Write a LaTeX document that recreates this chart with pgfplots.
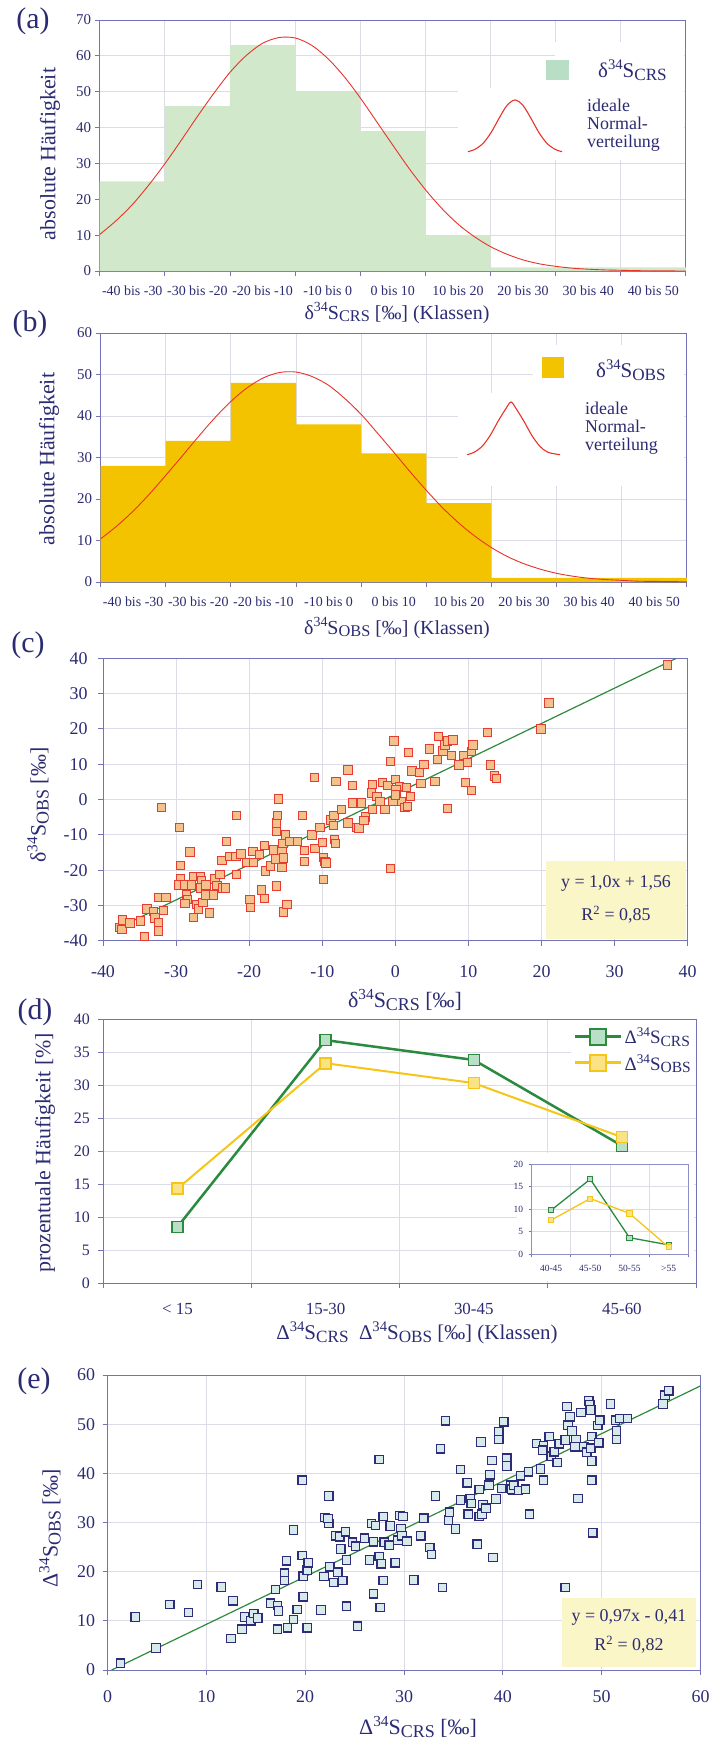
\documentclass[border=0pt]{standalone}
\usepackage{fontspec}
\setmainfont{Liberation Serif}
\usepackage{graphicx}
\usepackage{pgfplots}
\pgfplotsset{compat=1.18}
\definecolor{navy}{HTML}{2B2B73}
\definecolor{axc}{HTML}{7373B8}
\definecolor{gridc}{HTML}{DCDCE6}
\definecolor{barA}{HTML}{D2E8CB}
\definecolor{keyA}{HTML}{B8DEC6}
\definecolor{barB}{HTML}{F4C300}
\definecolor{curve}{HTML}{E8332B}
\definecolor{regl}{HTML}{2E8B3C}
\definecolor{boxc}{HTML}{FBF6C8}
\definecolor{cfill}{HTML}{F6C08C}
\definecolor{cdraw}{HTML}{E53B30}
\definecolor{efill}{HTML}{D6EAEC}
\definecolor{edraw}{HTML}{2E2C78}
\definecolor{dgreen}{HTML}{2A8A3E}
\definecolor{lgreen}{HTML}{B9DFC6}
\definecolor{dyel}{HTML}{F5C518}
\definecolor{lyel}{HTML}{F9E384}

\newcommand{\fs}[1]{\fontsize{#1}{#1}\selectfont}
\newcommand{\lo}[1]{\raisebox{-0.3ex}{\scalebox{0.82}{#1}}}
\newcommand{\hi}[1]{\raisebox{0.8ex}{\scalebox{0.7}{#1}}}
\newcommand{\dS}[1]{δ\hi{34}S\lo{#1}}
\newcommand{\DS}[1]{Δ\hi{34}S\lo{#1}}

\pgfplotsset{
  panel/.style={scale only axis, anchor=south west,
    axis line style={axc,line width=0.9bp},
    every tick/.style={axc,line width=0.9bp},
    major tick length=5bp, tick align=outside, tick pos=left,
    grid=major, grid style={gridc,line width=0.9bp},
    /pgf/number format/assume math mode=true,
    every tick label/.append style={text=navy}},
}

\begin{document}
\begin{tikzpicture}[x=1bp,y=-1bp]
\path[use as bounding box] (0,0) rectangle (711,1742);

% ---------- (a) CRS histogram
\begin{axis}[panel, at={(99.7bp,-271bp)}, width=586.2bp, height=251bp,
  xmin=-40, xmax=50, ymin=0, ymax=70,
  xtick={-40,-30,...,50}, x tick label as interval,
  xticklabels={-40 bis -30,-30 bis -20,-20 bis -10,-10 bis 0,0 bis 10,10 bis 20,20 bis 30,30 bis 40,40 bis 50},
  ytick={0,10,...,70},
  xticklabel style={font=\fs{14}, yshift=-6bp},
  yticklabel style={font=\fs{15}}]
\addplot[ybar interval, fill=barA, draw=none] coordinates
  {(-40,25) (-30,46) (-20,63) (-10,50) (0,39) (10,10) (20,1) (30,1) (40,1) (50,1)};
\addplot[curve, line width=0.9bp, smooth] coordinates {
  (-40,10.2) (-37.5,14.0) (-35,18.5) (-32.5,23.9) (-30,29.9) (-27.5,36.4)
  (-25,43.1) (-22.5,49.5) (-20,55.4) (-17.5,60.1) (-15,63.5) (-12.5,65.1)
  (-10,65.0) (-7.5,63.0) (-5,59.3) (-2.5,54.3) (0,48.3) (2.5,41.7) (5,35.1)
  (7.5,28.6) (10,22.7) (12.5,17.5) (15,13.1) (17.5,9.6) (20,6.8) (22.5,4.7)
  (25,3.1) (27.5,2.0) (30,1.3) (32.5,0.8) (35,0.5) (37.5,0.3) (40,0.2)
  (42.5,0.1) (45,0.05) (50,0)};
\end{axis}
\fill[white] (555,42) rectangle (684,90);
\fill[white] (458,88) rectangle (684,160);
\fill[keyA] (546,60) rectangle (569,80);
\node[anchor=west, font=\fs{21}, text=navy, inner sep=0] at (598,70) {\dS{CRS}};
\draw[curve, line width=1.1bp] plot[smooth] coordinates {(468,151.7) (475,149.3) (483,143.4) (491,132.7) (499,118.4) (507,105.4) (515,100) (523,105.4) (531,118.4) (539,132.7) (547,143.4) (555,149.3) (562,151.7)};
\node[anchor=west, align=left, font=\fs{18}, text=navy, inner sep=0] at (587,125.5)
  {\baselineskip=22.5bp ideale\\Normal-\\verteilung};

% ---------- (b) OBS histogram
\begin{axis}[panel, at={(100.6bp,-582bp)}, width=586.2bp, height=249bp,
  xmin=-40, xmax=50, ymin=0, ymax=60,
  xtick={-40,-30,...,50}, x tick label as interval,
  xticklabels={-40 bis -30,-30 bis -20,-20 bis -10,-10 bis 0,0 bis 10,10 bis 20,20 bis 30,30 bis 40,40 bis 50},
  ytick={0,10,...,60},
  xticklabel style={font=\fs{14}, yshift=-6bp},
  yticklabel style={font=\fs{15}}]
\addplot[ybar interval, fill=barB, draw=none] coordinates
  {(-40,28) (-30,34) (-20,48) (-10,38) (0,31) (10,19) (20,1) (30,1) (40,1) (50,1)};
\addplot[curve, line width=0.9bp, smooth] coordinates {
  (-40,10.4) (-37.5,13.5) (-35,17.1) (-32.5,21.2) (-30,25.7) (-27.5,30.3)
  (-25,35.0) (-22.5,39.5) (-20,43.5) (-17.5,46.8) (-15,49.2) (-12.5,50.5)
  (-10,50.6) (-7.5,49.5) (-5,47.4) (-2.5,44.2) (0,40.4) (2.5,35.9) (5,31.3)
  (7.5,26.6) (10,22.1) (12.5,17.9) (15,14.2) (17.5,11.0) (20,8.3) (22.5,6.1)
  (25,4.4) (27.5,3.1) (30,2.1) (32.5,1.4) (35,0.9) (37.5,0.6) (40,0.4)
  (42.5,0.2) (45,0.15) (50,0.05)};
\end{axis}
\fill[white] (533,345) rectangle (684,395);
\fill[white] (458,393) rectangle (684,486);
\fill[barB] (542,357) rectangle (564,378);
\node[anchor=west, font=\fs{21}, text=navy, inner sep=0] at (596,370) {\dS{OBS}};
\draw[curve, line width=1.1bp] plot[smooth] coordinates {(467,454.7) (474,452.3) (482,446.4) (490,435.7) (498,421.4) (506,408.4) (511,402) (516,408.4) (524,421.4) (532,435.7) (540,446.4) (548,452.3) (560,454.7)};
\node[anchor=west, align=left, font=\fs{18}, text=navy, inner sep=0] at (585,428)
  {\baselineskip=22.5bp ideale\\Normal-\\verteilung};

% ---------- (c) OBS vs CRS
\begin{axis}[panel, at={(103bp,-940.7bp)}, width=584.7bp, height=282.4bp,
  xmin=-40, xmax=40, ymin=-40, ymax=40,
  xtick={-40,-30,...,40}, ytick={-40,-30,...,40},
  xticklabel style={font=\fs{18}, yshift=-16bp},
  yticklabel style={font=\fs{18}, xshift=-7bp}]
\addplot[only marks, mark=square*, mark size=4.2bp,
  mark options={fill=cfill, draw=cdraw, line width=1bp}] coordinates {
(-37.7,-36.3) (-37.4,-36.9) (-37.3,-34.1) (-36.3,-35.0) (-34.9,-34.4) (-34.3,-38.8)
(-34.0,-31.0) (-33.1,-31.7) (-32.9,-33.6) (-32.4,-35.0) (-32.4,-37.2) (-31.7,-31.4)
(-32.4,-27.7) (-31.4,-27.7) (-32.0,-2.3) (-29.5,-7.9) (-28.1,-14.9) (-29.4,-18.7)
(-29.4,-22.5) (-29.7,-24.2) (-28.8,-24.2) (-28.6,-27.0) (-28.4,-28.4) (-28.8,-29.4)
(-27.6,-21.8) (-27.9,-24.2) (-26.7,-21.8) (-26.5,-23.0) (-26.7,-25.1) (-25.9,-24.2)
(-27.2,-29.8) (-26.9,-31.0) (-27.6,-33.4) (-26.3,-29.1) (-25.9,-27.0) (-25.4,-32.2)
(-24.9,-27.0) (-24.7,-22.5) (-24.4,-24.4) (-24.0,-21.2) (-23.6,-25.1) (-23.2,-25.1)
(-23.1,-11.9) (-23.7,-17.3) (-22.6,-16.1) (-21.8,-16.1) (-21.7,-21.3) (-21.7,-4.5)
(-21.1,-15.4) (-20.3,-17.8) (-19.5,-14.7) (-19.4,-17.8) (-19.9,-28.4) (-19.8,-30.6)
(-18.6,-15.5) (-18.3,-25.6) (-17.9,-28.0) (-17.9,-13.0) (-17.8,-20.2) (-17.1,-18.8)
(-16.7,-14.3) (-16.4,-16.8) (-16.3,-24.5) (-16.3,-8.9) (-16.3,-6.7) (-16.1,-4.6)
(-16.0,0.1) (-15.5,-14.5) (-15.5,-19.2) (-15.3,-16.6) (-15.0,-10.0) (-15.4,-12.4)
(-15.3,-31.9) (-14.8,-29.8) (-14.4,-11.9) (-13.4,-11.9) (-12.7,-4.6) (-12.4,-14.5)
(-12.4,-17.6) (-11.4,-10.0) (-11.0,-13.8) (-11.1,6.2) (-10.3,-7.9) (-10.0,-12.2)
(-9.8,-16.4) (-9.6,-17.6) (-9.5,-18.0) (-9.8,-22.6) (-8.8,-5.8) (-8.4,-4.6)
(-8.5,-7.4) (-8.3,-11.4) (-8.2,-12.4) (-8.1,5.1) (-7.4,-2.9) (-6.5,8.4)
(-6.5,-6.7) (-5.9,4.0) (-5.9,-1.0) (-5.3,-7.9) (-5.0,-8.1) (-4.6,-1.0)
(-4.1,-5.0) (-4.3,-5.9) (-3.3,1.8) (-3.1,4.3) (-3.1,-2.9) (-2.5,0.8)
(-2.1,-0.6) (-1.8,4.8) (-1.4,-2.9) (-1.0,3.9) (-0.7,-19.5) (-0.7,10.8)
(-0.2,16.6) (-0.3,-0.6) (0.0,5.6) (0.1,2.1) (0.6,3.7) (0.1,2.7)
(0.8,-0.6) (0.0,1.3) (1.3,-2.3) (1.7,-2.0) (1.5,3.4) (2.1,0.8)
(1.8,13.4) (2.3,8.1) (3.3,7.6) (3.9,10.0) (3.5,4.6) (4.7,14.3)
(5.4,5.1) (5.9,17.8) (5.8,11.4) (6.5,13.8) (6.8,15.5) (7.1,16.6)
(7.9,16.9) (7.7,12.5) (7.1,-2.6) (8.7,9.8) (9.3,12.5) (9.9,10.5)
(9.6,4.8) (10.4,13.6) (10.6,15.5) (10.4,2.5) (12.6,19.0) (13.0,9.8)
(13.6,6.7) (13.8,5.9) (19.9,20.0) (21.0,27.3) (37.2,38.1)};
\addplot[regl, line width=1.2bp] coordinates {(-38.2,-36.64) (38.4,39.96)};
\end{axis}
\fill[boxc] (546,861) rectangle (686,939);
\node[font=\fs{18}, text=navy] at (616,883) {y = 1,0x + 1,56};
\node[font=\fs{18}, text=navy] at (616,915) {R\textsuperscript{2} = 0,85};

% ---------- (d) class frequencies
\begin{axis}[panel, at={(103.4bp,-1283bp)}, width=592.6bp, height=264bp,
  xmin=0, xmax=4, ymin=0, ymax=40,
  xtick={0,1,2,3,4}, x tick label as interval,
  xticklabels={< 15,15-30,30-45,45-60},
  ytick={0,5,...,40},
  xticklabel style={font=\fs{17}, yshift=-12bp},
  yticklabel style={font=\fs{16}, xshift=-5bp},
  legend style={at={(1,0.985)}, anchor=north east, draw=none, fill=white,
    font=\fs{19}, text=navy, row sep=5bp, inner sep=3bp},
  legend cell align=left,
  legend image code/.code={\draw[mark repeat=2, mark phase=2, #1, line width=3bp, mark size=8bp]
    plot coordinates {(0bp,0bp) (23bp,0bp) (46bp,0bp)};}]
\addplot[dgreen, line width=2.5bp, mark=square*, mark size=5.5bp,
  mark options={fill=lgreen, draw=dgreen, line width=1.5bp}] coordinates
  {(0.5,8.5) (1.5,36.8) (2.5,33.8) (3.5,20.8)};
\addlegendentry{\DS{CRS}}
\addplot[dyel, line width=2bp, mark=square*, mark size=5.5bp,
  mark options={fill=lyel, draw=dyel, line width=1.5bp}] coordinates
  {(0.5,14.3) (1.5,33.3) (2.5,30.3) (3.5,22.1)};
\addlegendentry{\DS{OBS}}
\end{axis}
\fill[white] (517,1153) rectangle (694,1281);
\begin{axis}[panel, at={(531.5bp,-1254.3bp)}, width=156.7bp, height=90bp,
  axis line style={axc!80,line width=0.7bp}, every tick/.style={axc,line width=0.7bp},
  major tick length=3bp, grid style={gridc,line width=0.7bp},
  xmin=0, xmax=4, ymin=0, ymax=20,
  xtick={0,1,2,3,4}, x tick label as interval,
  xticklabels={40-45,45-50,50-55,>55},
  ytick={0,5,...,20},
  xticklabel style={font=\fs{9.5}, yshift=-4bp},
  yticklabel style={font=\fs{9.5}, xshift=-2bp}]
\addplot[dgreen, line width=1.3bp, mark=square*, mark size=2.6bp,
  mark options={fill=lgreen, draw=dgreen, line width=0.8bp}] coordinates
  {(0.5,9.8) (1.5,16.7) (2.5,3.7) (3.5,2.1)};
\addplot[dyel, line width=1.3bp, mark=square*, mark size=2.6bp,
  mark options={fill=lyel, draw=dyel, line width=0.8bp}] coordinates
  {(0.5,7.6) (1.5,12.4) (2.5,9.1) (3.5,1.6)};
\end{axis}

% ---------- (e) Delta OBS vs Delta CRS
\begin{axis}[panel, at={(107.5bp,-1670bp)}, width=593bp, height=295bp,
  xmin=0, xmax=60, ymin=0, ymax=60,
  xtick={0,10,...,60}, ytick={0,10,...,60},
  xticklabel style={font=\fs{18}, yshift=-12bp},
  yticklabel style={font=\fs{18}, xshift=-4bp}]
\addplot[only marks, mark=square*, mark size=4.2bp,
  mark options={fill=efill, draw=edraw, line width=1.2bp}] coordinates {
(1.3,1.4) (2.8,10.8) (4.9,4.5) (6.3,13.3) (8.2,11.7) (9.1,17.4) (11.5,16.9)
(12.7,14.1) (12.5,6.4) (13.6,8.3) (13.9,10.8) (14.5,10.0) (14.8,11.5) (15.2,10.6)
(16.5,13.6) (17.0,16.4) (17.2,13.1) (17.3,12.0) (17.2,8.3) (17.9,19.7) (17.9,18.2)
(18.1,22.2) (18.2,8.6) (18.8,28.5) (18.8,10.3) (19.2,12.3) (19.7,38.6) (19.7,23.3)
(19.8,19.1) (19.8,14.9) (20.2,8.6) (20.2,20.3) (20.3,21.8)
(21.6,12.2) (21.9,19.0) (22.0,31.0) (22.4,29.8) (22.4,35.4) (22.3,30.8) (22.5,21.0)
(22.9,17.8) (23.1,27.3) (23.3,19.9) (23.6,24.6) (23.5,27.1) (23.8,18.2) (24.1,28.1)
(24.2,22.4) (24.2,13.0) (24.8,26.0) (25.1,25.2) (25.3,8.9) (26.0,26.8) (26.5,22.4)
(26.7,29.8) (26.9,15.5) (26.9,26.1) (27.1,29.4) (27.5,42.8) (27.5,23.1) (27.7,21.6)
(27.9,31.2) (27.9,18.2) (27.6,12.7) (28.0,26.0) (28.6,29.3) (28.5,25.4) (29.1,21.8)
(29.4,26.4) (29.6,31.4) (29.7,28.8) (29.8,27.3) (29.9,31.2) (30.3,26.2) (31.0,18.3)
(31.7,27.3) (32.0,30.9) (32.6,24.9) (32.8,23.5) (33.2,35.4) (33.7,45.0) (33.9,16.8)
(34.2,50.7) (34.5,30.5) (34.6,32.1) (35.2,28.7) (35.7,34.6) (35.7,40.8) (36.4,38.1)
(36.5,31.7) (36.7,34.9) (36.8,33.9) (37.4,25.6) (37.6,36.7) (37.6,31.2) (37.8,46.4)
(37.9,31.7) (38.0,33.6) (38.3,32.9) (38.6,37.6) (38.7,39.7) (38.9,42.6) (39.0,22.9)
(39.3,34.8) (39.6,48.4) (39.6,46.9) (40.1,50.5) (39.9,36.9) (40.4,43.1) (40.4,41.5)
(40.8,37.6) (41.0,36.5)
(40.9,36.8) (41.1,37.5) (41.6,36.5) (41.8,39.5) (42.3,36.8) (42.6,40.3) (42.7,31.7)
(43.4,46.1) (43.8,40.9) (44.1,38.6) (44.1,45.6) (44.0,44.7) (44.7,47.5) (44.9,43.5)
(45.2,44.4) (45.5,42.2) (45.7,46.0) (46.3,46.8) (46.5,53.6) (46.6,49.8) (46.8,51.5)
(47.0,48.6) (47.4,46.8) (47.3,45.4) (47.6,34.9) (47.9,52.4) (48.2,45.4) (48.5,44.3)
(48.7,54.7) (48.8,53.9) (48.9,52.9) (49.0,47.5) (48.9,45.1) (49.0,42.5) (49.0,38.6)
(49.1,27.9) (49.6,49.7) (49.7,46.2) (49.8,50.8) (46.3,16.8) (50.9,54.1) (51.4,50.8)
(51.5,48.6) (51.5,46.9) (51.8,51.2) (52.6,51.2) (56.2,54.1) (56.4,55.9) (56.8,56.8)};
\addplot[regl, line width=1.2bp] coordinates {(0.42,0) (60,57.79)};
\end{axis}
\fill[boxc] (562,1598) rectangle (696,1667);
\node[font=\fs{18}, text=navy] at (629,1617) {y = 0,97x - 0,41};
\node[font=\fs{18}, text=navy] at (629,1645) {R\textsuperscript{2} = 0,82};

% ---------- panel letters and axis titles
\begin{scope}[every node/.style={text=navy}]
\node[font=\fs{30}] at (33,21) {(a)};
\node[font=\fs{30}] at (30,324) {(b)};
\node[font=\fs{30}] at (28,645) {(c)};
\node[font=\fs{30}] at (35,1012) {(d)};
\node[font=\fs{30}] at (34,1381) {(e)};
\node[rotate=90, font=\fs{22}] at (50,154) {absolute Häufigkeit};
\node[rotate=90, font=\fs{22}] at (49,459) {absolute Häufigkeit};
\node[rotate=90, font=\fs{22}] at (38,805) {\dS{OBS} [‰]};
\node[rotate=90, font=\fs{22}] at (45,1153) {prozentuale Häufigkeit [\%]};
\node[rotate=90, font=\fs{22}] at (50,1528) {\DS{OBS} [‰]};
\node[font=\fs{20}] at (397,313) {\dS{CRS} [‰] (Klassen)};
\node[font=\fs{20}] at (397,628) {\dS{OBS} [‰] (Klassen)};
\node[font=\fs{22}] at (405,1000) {\dS{CRS} [‰]};
\node[font=\fs{21}] at (417,1333) {\DS{CRS}\enspace\DS{OBS} [‰] (Klassen)};
\node[font=\fs{22}] at (418,1727) {\DS{CRS} [‰]};
\end{scope}
\end{tikzpicture}
\end{document}
